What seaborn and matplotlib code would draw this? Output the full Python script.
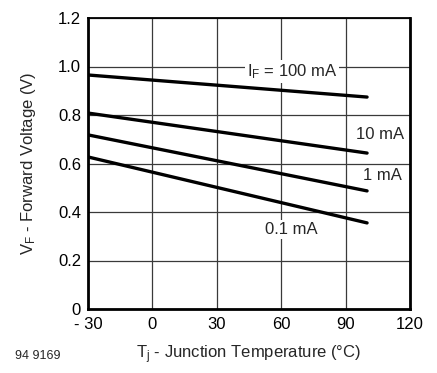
import matplotlib
matplotlib.use("Agg")
import matplotlib.pyplot as plt
import seaborn as sns
import pandas as pd

# Data
temps = [-30, 100]
series_names = ["100 mA", "10 mA", "1 mA", "0.1 mA"]
v_100mA = [0.965, 0.874]
v_10mA = [0.808, 0.643]
v_1mA = [0.718, 0.487]
v_01mA = [0.627, 0.355]
x_ticks = [-30, 0, 30, 60, 90, 120]
x_tick_labels = ["- 30", "0", "30", "60", "90", "120"]
y_ticks = [0, 0.2, 0.4, 0.6, 0.8, 1.0, 1.2]
y_tick_labels = ["0", "0.2", "0.4", "0.6", "0.8", "1.0", "1.2"]
label_text = ["$\\mathregular{I_F}$ = 100 mA", "10 mA", "1 mA", "0.1 mA"]
label_pos = [(65, 0.98), (106, 0.718), (107, 0.55), (64.5, 0.326)]

sns.set_theme(style="white")
plt.rcParams["font.family"] = ["Liberation Sans", "DejaVu Sans"]
plt.rcParams["mathtext.default"] = "regular"

rows = []
for name, vals in zip(series_names, [v_100mA, v_10mA, v_1mA, v_01mA]):
    for t, v in zip(temps, vals):
        rows.append({"T": t, "V": v, "I": name})
df = pd.DataFrame(rows)

fig = plt.figure(figsize=(4.37, 3.73), dpi=100)
ax = fig.add_axes([88 / 437, 1 - 309 / 373, (410 - 88) / 437, (309 - 18) / 373])

sns.lineplot(data=df, x="T", y="V", hue="I", palette=["black"] * 4,
             linewidth=2.4, legend=False, ax=ax, zorder=3)

ax.set_xlim(-30, 120)
ax.set_ylim(0, 1.2)
ax.set_xticks(x_ticks)
ax.set_xticklabels(x_tick_labels)
ax.set_yticks(y_ticks)
ax.set_yticklabels(y_tick_labels)
ax.tick_params(axis="both", length=0, labelsize=12, colors="black")
ax.tick_params(axis="x", pad=6)
ax.tick_params(axis="y", pad=5)
ax.grid(True, color="#3a3a3a", linewidth=0.9)
ax.set_axisbelow(True)
for s in ax.spines.values():
    s.set_visible(True)
    s.set_color("black")
    s.set_linewidth(2.0)
ax.spines["top"].set_linewidth(1.3)

for txt, (x, y) in zip(label_text, label_pos):
    ax.text(x, y, txt, ha="center", va="center", fontsize=12, zorder=4,
            bbox=dict(facecolor="white", edgecolor="none", pad=1.5))

ax.set_xlabel("$\\mathregular{T_j}$ - Junction Temperature (°C)", fontsize=12, labelpad=8)
ax.set_ylabel("$\\mathregular{V_F}$ - Forward Voltage (V)", fontsize=12, labelpad=14)
fig.text(38 / 437, 1 - 356 / 373, "94 9169", ha="center", va="center", fontsize=9)

fig.savefig("out.png", dpi=100)
